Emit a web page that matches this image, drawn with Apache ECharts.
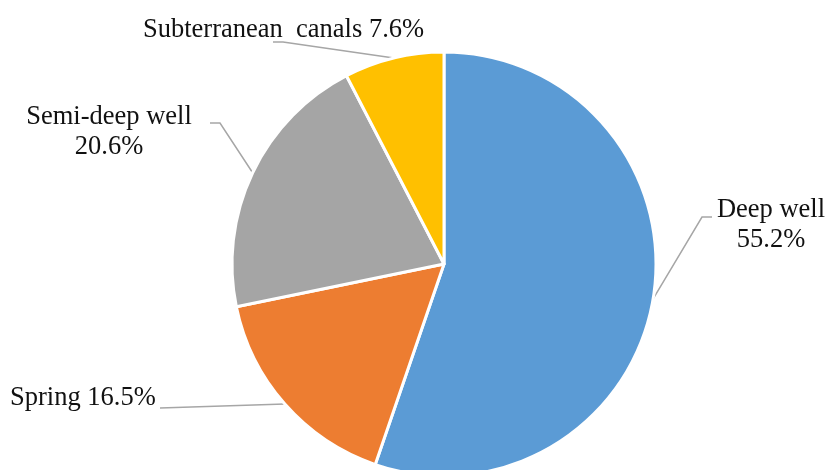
<!DOCTYPE html>
<html>
<head>
<meta charset="utf-8">
<script src="https://cdn.jsdelivr.net/npm/echarts@6/dist/echarts.min.js"></script>
<style>
html,body{margin:0;padding:0;background:#fff;}
#chart{width:827px;height:470px;}
</style>
</head>
<body>
<div id="chart"></div>
<script>
var categories = ['Deep well', 'Spring', 'Semi-deep well', 'Subterranean  canals'];
var values = [55.2, 16.5, 20.6, 7.6];
var colors = ['#5B9BD5', '#ED7D31', '#A5A5A5', '#FFC000'];
var twoLine = [true, false, true, false];

// label placement (annotation layout)
var labelPlace = [
  {x: 771, y: 225, align: 'center', elbow: [[712, 217], [702, 217]]},
  {x: 10, y: 398, align: 'left', elbow: [[160, 408]]},
  {x: 109, y: 132, align: 'center', elbow: [[210, 123], [220, 123]]},
  {x: 143, y: 30, align: 'left', elbow: [[273, 42], [283, 42]]}
];

var chart = echarts.init(document.getElementById('chart'));
var data = categories.map(function (c, i) {
  return {name: c, value: values[i], itemStyle: {color: colors[i]}};
});

chart.setOption({
  animation: false,
  series: [{
    type: 'pie',
    center: [444, 264],
    radius: [0, 212],
    startAngle: 90,
    clockwise: true,
    data: data,
    itemStyle: {borderColor: '#ffffff', borderWidth: 3},
    label: {
      show: true,
      position: 'outside',
      fontFamily: 'Liberation Serif',
      fontSize: 26.5,
      lineHeight: 30,
      color: '#111',
      formatter: function (p) {
        var i = p.dataIndex;
        return p.name + (twoLine[i] ? '\n' : ' ') + values[i].toFixed(1) + '%';
      }
    },
    labelLine: {show: true, lineStyle: {color: '#a6a6a6', width: 1.5}},
    labelLayout: function (params) {
      var pl = labelPlace[params.dataIndex];
      var pts = pl.elbow.slice();
      if (params.labelLinePoints && params.labelLinePoints[0]) {
        pts.push(params.labelLinePoints[0]);
      }
      return {
        x: pl.x,
        y: pl.y,
        align: pl.align,
        verticalAlign: 'middle',
        labelLinePoints: pts
      };
    }
  }]
});
</script>
</body>
</html>
